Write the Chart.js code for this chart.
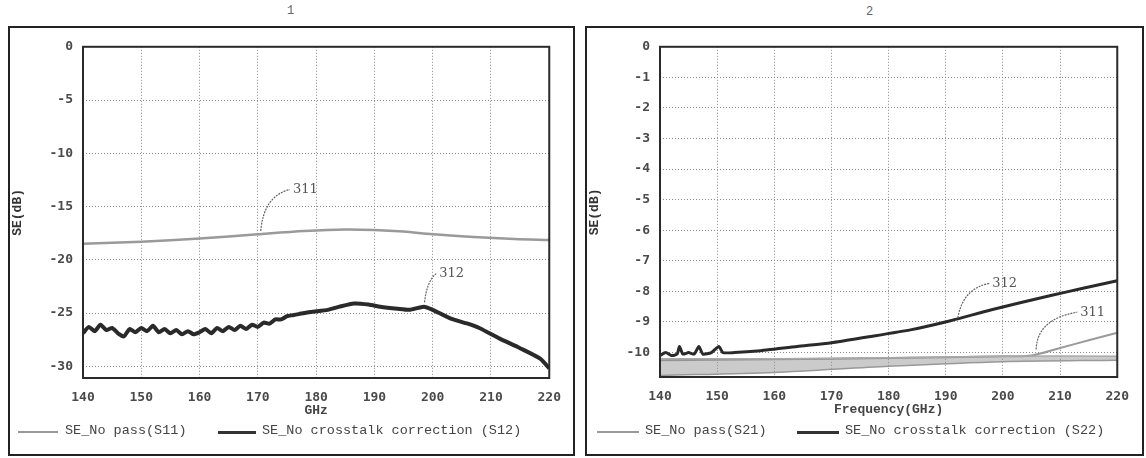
<!DOCTYPE html>
<html>
<head>
<meta charset="utf-8">
<script src="https://cdn.jsdelivr.net/npm/chart.js@4.4.1/dist/chart.umd.min.js"></script>
<style>
  body { margin: 0; background: #fff; width: 1146px; height: 458px; overflow: hidden; position: relative; font-family: "Liberation Mono", monospace; }
  .panel { position: absolute; border: 2px solid #222; box-sizing: border-box; }
  .cv { position: absolute; }
  .num { position: absolute; font-size: 12px; color: #666; }
  .legend { position: absolute; top: 423px; font-size: 13.5px; color: #444; white-space: nowrap; }
  .legend span { position: absolute; top: 0; }
  .legend i { position: absolute; top: 8px; display: block; }
</style>
</head>
<body>
<div class="panel" style="left:8px;top:26px;width:567px;height:430px;"></div>
<div class="panel" style="left:585px;top:26px;width:559px;height:430px;"></div>
<div class="num" style="left:287px;top:4px;">1</div>
<div class="num" style="left:866px;top:5px;">2</div>
<canvas id="c1" class="cv" width="563" height="424" style="left:10px;top:29px;"></canvas>
<canvas id="c2" class="cv" width="554" height="424" style="left:587px;top:29px;"></canvas>

<div class="legend" style="left:0;">
  <i style="left:18px;width:40px;border-top:2px solid #999;"></i>
  <span style="left:65px;">SE_No pass(S11)</span>
  <i style="left:218px;width:38px;border-top:3px solid #333;"></i>
  <span style="left:262px;">SE_No crosstalk correction (S12)</span>
</div>
<div class="legend" style="left:0;">
  <i style="left:597px;width:42px;border-top:2px solid #999;"></i>
  <span style="left:645px;">SE_No pass(S21)</span>
  <i style="left:797px;width:42px;border-top:3px solid #333;"></i>
  <span style="left:845px;">SE_No crosstalk correction (S22)</span>
</div>

<script>
(function () {
  "use strict";

  // chart 1: frequency (GHz) / SE (dB)
  const FREQ_1_311 = [140, 150, 160, 170, 178, 185, 190, 195, 200, 207, 214, 220];
  const SE_1_311 = [-18.5, -18.3, -18.0, -17.6, -17.3, -17.15, -17.2, -17.35, -17.6, -17.85, -18.05, -18.15];

  const FREQ_1_312 = [140, 141, 142, 143, 144, 145, 146, 147, 148, 149, 150, 151, 152, 153, 154, 155,
    156, 157, 158, 159, 160, 161, 162, 163, 164, 165, 166, 167, 168, 169, 170, 171, 172, 173, 174,
    175, 176, 177, 179, 182, 184, 186.5, 189, 191, 194, 196, 198.5, 200, 203, 206, 208, 211.5, 215,
    218.5, 220];
  const SE_1_312 = [-26.9, -26.3, -26.7, -26.1, -26.6, -26.4, -26.9, -27.2, -26.5, -26.8, -26.4, -26.7,
    -26.2, -26.8, -26.5, -26.9, -26.6, -27.0, -26.7, -27.0, -26.8, -26.5, -26.9, -26.4, -26.7, -26.3,
    -26.6, -26.2, -26.5, -26.1, -26.3, -25.9, -26.0, -25.6, -25.6, -25.3, -25.2, -25.1, -24.9, -24.7,
    -24.4, -24.1, -24.2, -24.4, -24.6, -24.7, -24.4, -24.7, -25.5, -26.0, -26.4, -27.4, -28.3, -29.3,
    -30.2];

  // chart 2
  const FREQ_2_312 = [140, 141, 142, 143, 143.4, 144, 145, 146, 146.8, 147.5, 149, 150.3, 151, 153,
    157, 164, 170, 176, 184, 191, 198, 208, 214, 220];
  const SE_2_312 = [-10.1, -10.0, -10.1, -10.05, -9.8, -10.05, -10.0, -10.05, -9.8, -10.05, -10.0,
    -9.8, -10.0, -10.0, -9.95, -9.8, -9.68, -9.5, -9.25, -8.95, -8.6, -8.15, -7.9, -7.65];

  const FREQ_2_311 = [140, 160, 180, 200, 205, 210, 215, 220];
  const SE_2_311 = [-10.25, -10.22, -10.18, -10.12, -10.1, -9.85, -9.6, -9.35];

  const FREQ_2_BAND = [140, 160, 180, 200, 220];
  const SE_2_BAND_TOP = [-10.2, -10.2, -10.17, -10.12, -10.12];
  const SE_2_BAND_LOW = [-10.75, -10.65, -10.45, -10.3, -10.25];

  const X_MIN = 140, X_MAX = 220, X_STEP = 10;
  const Y_TICKS_1 = [0, -5, -10, -15, -20, -25, -30];
  const Y_TICKS_2 = [0, -1, -2, -3, -4, -5, -6, -7, -8, -9, -10];

  // annotation leaders in data units: [fromX, fromY, ctrlX, ctrlY, toX, toY, label]
  const NOTES_1 = [
    [170.5, -17.3, 171, -14.0, 175.5, -13.4, "311"],
    [198.6, -24.0, 199, -22.0, 200.6, -21.3, "312"]
  ];
  const NOTES_2 = [
    [192.1, -8.87, 193, -7.9, 197.6, -7.74, "312"],
    [205.8, -9.9, 206, -8.9, 213, -8.68, "311"]
  ];

  const GRID = { color: "#8a8a8a", lineWidth: 1, drawTicks: false };
  const BORDER = { display: false, dash: [1, 2] };
  const TICK_FONT = { family: "DejaVu Sans Mono", size: 13, weight: "bold" };
  const TITLE_FONT = { family: "Liberation Mono", size: 13, weight: "bold" };

  function pts(xs, ys) {
    return xs.map(function (x, i) { return { x: x, y: ys[i] }; });
  }

  const framePlugin = {
    id: "frame",
    afterDraw: function (chart) {
      const a = chart.chartArea;
      const ctx = chart.ctx;
      ctx.save();
      ctx.strokeStyle = "#2a2a2a";
      ctx.lineWidth = 2;
      ctx.strokeRect(a.left, a.top, a.right - a.left, a.bottom - a.top);
      ctx.restore();
    }
  };

  const notesPlugin = {
    id: "notes",
    afterDatasetsDraw: function (chart, args, opts) {
      const xs = chart.scales.x, ys = chart.scales.y;
      const ctx = chart.ctx;
      ctx.save();
      ctx.strokeStyle = "#666";
      ctx.lineWidth = 1.2;
      ctx.fillStyle = "#555";
      ctx.font = "13px 'DejaVu Serif'";
      ctx.textBaseline = "middle";
      (opts.items || []).forEach(function (n) {
        const x0 = xs.getPixelForValue(n[0]), y0 = ys.getPixelForValue(n[1]);
        const cx = xs.getPixelForValue(n[2]), cy = ys.getPixelForValue(n[3]);
        const x1 = xs.getPixelForValue(n[4]), y1 = ys.getPixelForValue(n[5]);
        ctx.setLineDash([2, 1]);
        ctx.beginPath();
        ctx.moveTo(x0, y0);
        ctx.quadraticCurveTo(cx, cy, x1, y1);
        ctx.stroke();
        ctx.setLineDash([]);
        ctx.fillText(n[6], x1 + 3, y1);
      });
      ctx.restore();
    }
  };

  function makeChart(id, datasets, yMin, yTicks, xTitle, notes, padRight, padBottom) {
    return new Chart(document.getElementById(id), {
      type: "line",
      data: { datasets: datasets },
      options: {
        responsive: false,
        animation: false,
        parsing: false,
        layout: { padding: { left: 0, right: padRight, top: 14, bottom: padBottom } },
        plugins: { legend: { display: false }, tooltip: { enabled: false }, notes: { items: notes } },
        elements: { point: { radius: 0 }, line: { tension: 0.3 } },
        scales: {
          x: {
            type: "linear",
            min: X_MIN, max: X_MAX,
            ticks: { stepSize: X_STEP, color: "#4a4a4a", font: TICK_FONT, padding: 12, maxRotation: 0 },
            grid: GRID,
            border: BORDER,
            title: { display: true, text: xTitle, color: "#444", font: TITLE_FONT, padding: { top: 0, bottom: 4 } },
            afterFit: function (s) { s.height = 45; }
          },
          y: {
            min: yMin, max: 0,
            ticks: { color: "#4a4a4a", font: TICK_FONT, padding: 10 },
            afterBuildTicks: function (s) {
              s.ticks = yTicks.map(function (v) { return { value: v }; });
            },
            grid: GRID,
            border: BORDER,
            title: { display: true, text: "SE(dB)", color: "#333", font: TITLE_FONT, padding: { top: 0, bottom: 0 } },
            afterFit: function (s) { s.width = 73; }
          }
        }
      },
      plugins: [framePlugin, notesPlugin]
    });
  }

  makeChart("c1", [
    { label: "SE_No pass(S11)", data: pts(FREQ_1_311, SE_1_311), borderColor: "#9a9a9a", borderWidth: 2.5 },
    { label: "SE_No crosstalk correction (S12)", data: pts(FREQ_1_312, SE_1_312), borderColor: "#2a2a2a", borderWidth: 4, tension: 0.2 }
  ], -31.1, Y_TICKS_1, "GHz", NOTES_1, 22, 30);

  makeChart("c2", [
    { label: "band top", data: pts(FREQ_2_BAND, SE_2_BAND_TOP), borderColor: "#aaa", borderWidth: 1.5 },
    { label: "band", data: pts(FREQ_2_BAND, SE_2_BAND_LOW), borderColor: "#999", borderWidth: 1.5,
      fill: "-1", backgroundColor: "rgba(140,140,140,0.45)" },
    { label: "SE_No pass(S21)", data: pts(FREQ_2_311, SE_2_311), borderColor: "#9a9a9a", borderWidth: 2 },
    { label: "SE_No crosstalk correction (S22)", data: pts(FREQ_2_312, SE_2_312), borderColor: "#2a2a2a", borderWidth: 3, tension: 0.2 }
  ], -10.8, Y_TICKS_2, "Frequency(GHz)", NOTES_2, 13, 31);
})();
</script>
</body>
</html>
